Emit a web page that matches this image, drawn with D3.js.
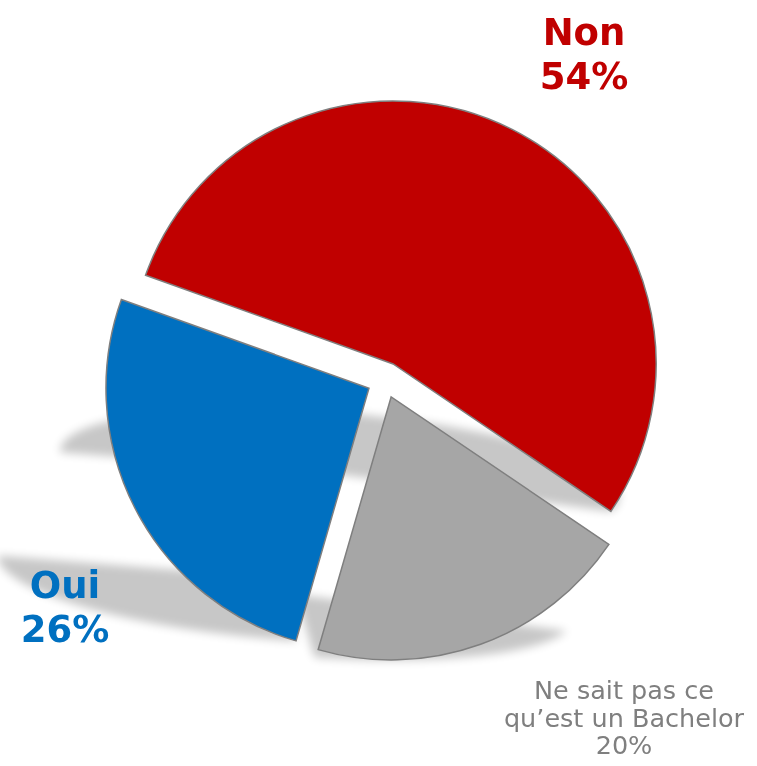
<!DOCTYPE html>
<html>
<head>
<meta charset="utf-8">
<script src="https://cdn.jsdelivr.net/npm/d3@7"></script>
<style>
  html, body { margin: 0; padding: 0; background: #ffffff; }
  svg { display: block; }
</style>
</head>
<body>
<div id="chart"></div>
<script>
// ---- data ----
const categories = ["Non", "Ne sait pas ce qu’est un Bachelor", "Oui"];
const values = [54, 20, 26];
const colors = ["#C00000", "#A6A6A6", "#0070C0"];
const labelLines = [
  ["Non", "54%"],
  ["Ne sait pas ce", "qu’est un Bachelor", "20%"],
  ["Oui", "26%"]
];

// ---- layout ----
const W = 757, H = 766;
const cx = 385, cy = 380, R = 263, explode = 18;
const startDeg = -70.3;
const toRad = d => d * Math.PI / 180;

const svg = d3.select("#chart").append("svg")
  .attr("width", W).attr("height", H)
  .style("background", "#ffffff");

const defs = svg.append("defs");
defs.append("filter")
  .attr("id", "shadowBlur")
  .attr("filterUnits", "userSpaceOnUse")
  .attr("x", -200).attr("y", -200).attr("width", W + 400).attr("height", H + 400)
  .append("feGaussianBlur").attr("stdDeviation", 5);

const pie = d3.pie().sort(null)
  .startAngle(toRad(startDeg))
  .endAngle(toRad(startDeg + 360));
const arcs = pie(values);
const arc = d3.arc().innerRadius(0).outerRadius(R);

function offsetOf(d) {
  const a = (d.startAngle + d.endAngle) / 2;
  return [cx + explode * Math.sin(a), cy - explode * Math.cos(a)];
}
function bboxOf(d) {
  const [ox, oy] = offsetOf(d);
  const pts = [[ox, oy]];
  const pushAng = a => pts.push([ox + R * Math.sin(a), oy - R * Math.cos(a)]);
  pushAng(d.startAngle); pushAng(d.endAngle);
  for (let k = -4; k <= 8; k++) {
    const a = k * Math.PI / 2;
    if (a > d.startAngle && a < d.endAngle) pushAng(a);
  }
  return {
    x0: d3.min(pts, p => p[0]), x1: d3.max(pts, p => p[0]),
    y0: d3.min(pts, p => p[1]), y1: d3.max(pts, p => p[1])
  };
}

// perspective shadow (squashed + skewed, anchored at each slice's bottom)
const sy = 0.25, skew = 1.45;
const shadowG = svg.append("g")
  .attr("filter", "url(#shadowBlur)")
  .attr("opacity", 0.22);
shadowG.selectAll("path")
  .data(arcs)
  .join("path")
  .attr("d", arc)
  .attr("fill", "#000")
  .attr("transform", d => {
    const [ox, oy] = offsetOf(d);
    const b = bboxOf(d);
    const ay = b.y1;
    const c = skew * sy;
    // x' = x + c*(y - ay), y' = ay + sy*(y - ay); applied to translated shape
    return `matrix(1,0,${c},${sy},${-c * ay},${ay * (1 - sy)}) translate(${ox},${oy})`;
  });

// slices
svg.append("g").selectAll("path")
  .data(arcs)
  .join("path")
  .attr("d", arc)
  .attr("transform", d => `translate(${offsetOf(d)})`)
  .attr("fill", (d, i) => colors[i])
  .attr("stroke", "#7f7f7f")
  .attr("stroke-width", 1.5)
  .attr("stroke-linejoin", "miter");

// labels
const labelPos = [
  { x: 584, y: 45, dy: 44, size: 37, weight: "bold", color: colors[0] },
  { x: 624, y: 699, dy: 27.5, size: 25.5, weight: "normal", color: "#7f7f7f" },
  { x: 65, y: 598, dy: 44, size: 37, weight: "bold", color: colors[2] }
];
labelLines.forEach((lines, i) => {
  const p = labelPos[i];
  const t = svg.append("text")
    .attr("x", p.x).attr("y", p.y)
    .attr("text-anchor", "middle")
    .attr("font-family", "'DejaVu Sans', Verdana, sans-serif")
    .attr("font-size", p.size)
    .attr("font-weight", p.weight)
    .attr("fill", p.color);
  lines.forEach((ln, j) => {
    t.append("tspan").attr("x", p.x).attr("y", p.y + j * p.dy).text(ln);
  });
});
</script>
</body>
</html>
